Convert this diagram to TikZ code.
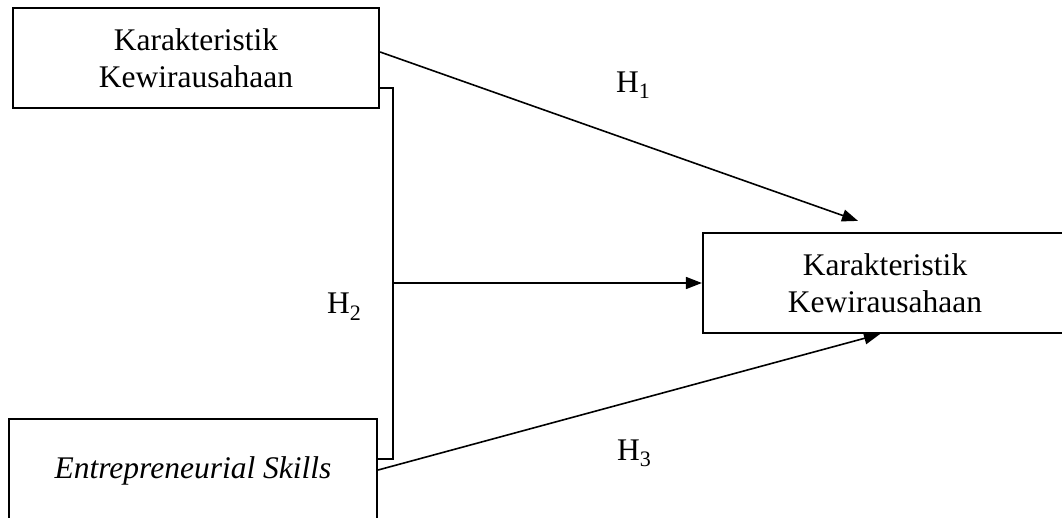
\documentclass[tikz,border=0pt]{standalone}
\usepackage{fontspec}
\setmainfont{Liberation Serif}
\usetikzlibrary{arrows.meta}
\begin{document}
\begin{tikzpicture}[x=1pt,y=-1pt,
  box/.style={draw,line width=2.2pt,inner sep=0pt,align=center,
    font=\fontsize{31.5}{36.5}\selectfont},
  conn/.style={line width=1.6pt},
  arr/.style={conn,-{Triangle[length=16pt,width=12pt]}},
  hlab/.style={anchor=base west,inner sep=0pt,font=\fontsize{31.5}{36.5}\selectfont}]
\useasboundingbox (0,0) rectangle (1062,518);
\clip (0,0) rectangle (1062,518);
\node[box,minimum width=366pt,minimum height=100pt] (top) at (196,58)
  {Karakteristik\\Kewirausahaan};
\node[box,minimum width=364pt,minimum height=100pt] (res) at (885,283)
  {Karakteristik\\Kewirausahaan};
\node[box,minimum width=368pt,minimum height=104pt] (bot) at (193,471)
  {\itshape Entrepreneurial Skills};
\coordinate (j) at (393,283);
\draw[arr] ([yshift=6pt]top.east) -- ([xshift=-27pt,yshift=11pt]res.north);
\draw[conn] ([yshift=-30pt]top.east) -| (j) |- ([yshift=12pt]bot.east);
\draw[arr] (j) -- (res.west);
\draw[arr] ([yshift=1pt]bot.east) -- ([xshift=-5pt]res.south);
\node[hlab] (h1) at (616,93) {H\textsubscript{1}};
\node[hlab] (h2) at (327,314) {H\textsubscript{2}};
\node[hlab] (h3) at (617,460) {H\textsubscript{3}};
\end{tikzpicture}
\end{document}
